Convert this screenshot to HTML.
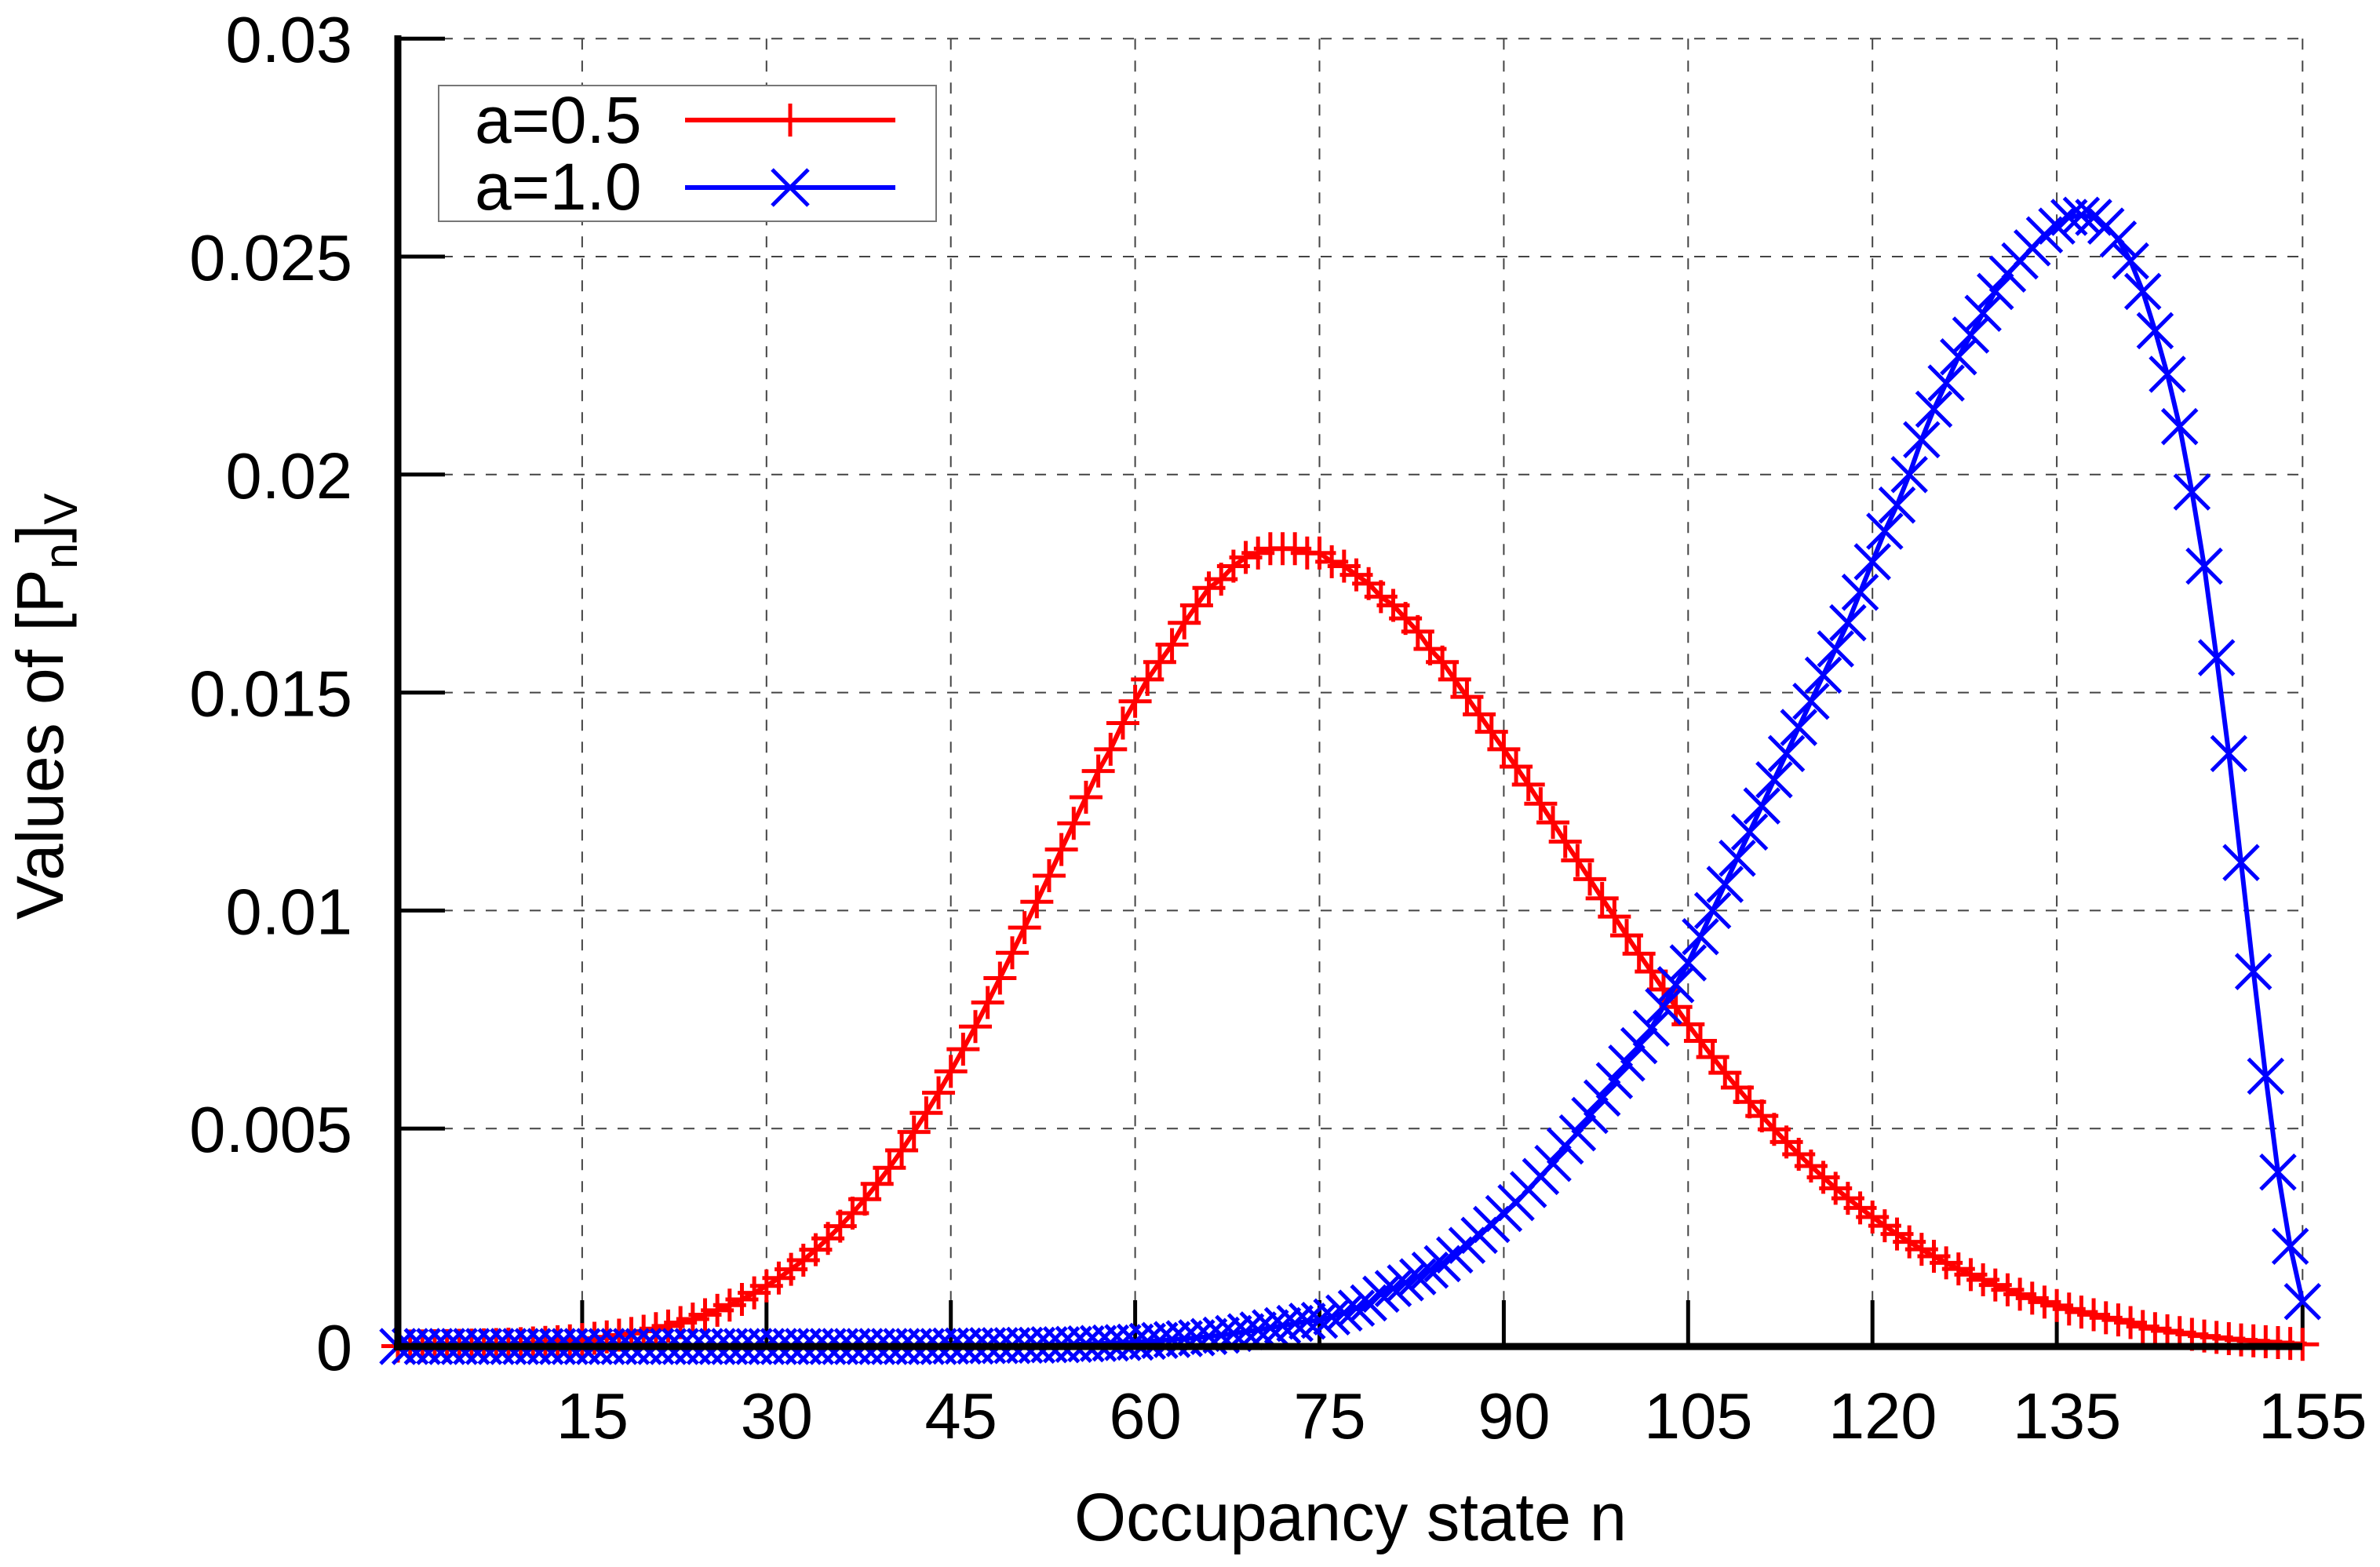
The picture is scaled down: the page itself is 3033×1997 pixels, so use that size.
<!DOCTYPE html>
<html><head><meta charset="utf-8"><style>html,body{margin:0;padding:0;background:#fff}svg{display:block}</style></head>
<body>
<svg id="chart" xmlns="http://www.w3.org/2000/svg" width="3033" height="1997" viewBox="0 0 3033 1997" font-family="'Liberation Sans', sans-serif">
<rect width="3033" height="1997" fill="#fff"/>
<g id="grid"></g>
<g id="ticks"></g>
<g id="series"></g>
<g id="axes">
<line x1="507" y1="45" x2="507" y2="1721" stroke="#000" stroke-width="9"/>
<line x1="502" y1="1716" x2="2934" y2="1716" stroke="#000" stroke-width="9"/>
</g>
<g id="labels" font-size="83" fill="#000"></g>
<text x="1721" y="1963" font-size="86" text-anchor="middle" textLength="704" lengthAdjust="spacingAndGlyphs">Occupancy state n</text>
<text transform="translate(80,1172) rotate(-90)" font-size="84">Values of [P<tspan font-size="60" dy="18">n</tspan><tspan dy="-18">]</tspan><tspan font-size="60" dy="18">V</tspan></text>
<g>
<rect x="559" y="109" width="634" height="173" fill="#fff" stroke="#777" stroke-width="2"/>
<text x="605" y="182" font-size="84">a=0.5</text>
<line x1="873" y1="153" x2="1141" y2="153" stroke="#f00" stroke-width="6"/>
<path d="M986 153H1028M1007 132V174" stroke="#f00" stroke-width="5"/>
<text x="605" y="267" font-size="84">a=1.0</text>
<line x1="873" y1="239" x2="1141" y2="239" stroke="#00f" stroke-width="6"/>
<path d="M984 216L1030 262M984 262L1030 216" stroke="#00f" stroke-width="5"/>
</g>
</svg>
<script>
const xTicks = [15,30,45,60,75,90,105,120,135,155];
const yTicks = [0,0.005,0.01,0.015,0.02,0.025,0.03];
const yTickLabels = ["0","0.005","0.01","0.015","0.02","0.025","0.03"];
const redValues = [
0.000009,0.000012,0.000014,0.000017,0.000021,0.000026,0.000031,0.000038,0.000046,0.000055,
0.000066,0.00008,0.000095,0.00011,0.00013,0.00016,0.00019,0.00022,0.00026,0.0003,
0.00035,0.00041,0.00047,0.00055,0.00063,0.00073,0.00083,0.00095,0.00108,0.00123,
0.00139,0.00157,0.00177,0.00198,0.00222,0.00248,0.00276,0.00306,0.00338,0.00373,
0.0041,0.0045,0.00492,0.00536,0.00582,0.00631,0.00682,0.00734,0.00789,0.00845,
0.00903,0.00961,0.0102,0.0108,0.0114,0.012,0.0126,0.0132,0.0137,0.0143,
0.0148,0.0153,0.0157,0.0161,0.0166,0.017,0.0174,0.0176,0.0179,0.0181,
0.0182,0.0183,0.0183,0.0183,0.0182,0.0182,0.018,0.0179,0.0177,0.0175,
0.0172,0.017,0.0167,0.0164,0.016,0.0157,0.0153,0.0149,0.0145,0.0141,
0.0137,0.0133,0.01289,0.01245,0.01202,0.01158,0.01115,0.01072,0.01028,0.00986,
0.00943,0.00901,0.0086,0.00819,0.00779,0.00739,0.00701,0.00664,0.00628,0.00594,
0.00561,0.00529,0.00498,0.00469,0.00441,0.00414,0.00388,0.00363,0.0034,0.00318,
0.00297,0.00277,0.00258,0.0024,0.00223,0.00207,0.00192,0.00178,0.00165,0.00153,
0.00141,0.0013,0.0012,0.00111,0.00102,0.00094,0.00086,0.00079,0.00073,0.00066,
0.00061,0.00055,0.00046,0.00041,0.00036,0.00032,0.00028,0.00024,0.00021,0.00018,
0.00015,0.00013,0.00011,0.00009,0.00007,0.00005];
const blueValues = [
0,0,0,0,0,0,0,0,0,0,
0,0,0,0,0,0,0,0,0,0,
0,0,0,0,0,0,0,0,0,0,
0,0,0,0,0,0,0,0,0,0,
0,0,0,0,0,0.00001,0.00001,0.00001,0.00002,0.00002,
0.00002,0.00003,0.00003,0.00004,0.00004,0.00005,0.00006,0.00007,0.00008,0.00009,
0.0001,0.00012,0.00014,0.00016,0.00018,0.0002,0.00023,0.00026,0.0003,0.00034,
0.00038,0.00043,0.00048,0.00053,0.00058,0.0006,0.00068,0.00077,0.00088,0.001,
0.0012,0.00133,0.00146,0.0016,0.00175,0.0019,0.0021,0.00232,0.00255,0.0028,
0.00305,0.0033,0.0036,0.0039,0.0042,0.0046,0.0049,0.0053,0.0057,0.0061,
0.0065,0.0069,0.0073,0.0078,0.0083,0.0088,0.0094,0.01,0.0106,0.0112,
0.0118,0.0124,0.013,0.0136,0.0142,0.0148,0.0154,0.016,0.0166,0.0173,
0.018,0.0187,0.0193,0.02,0.0208,0.0215,0.0221,0.0227,0.0232,0.0237,
0.0242,0.0246,0.0249,0.0252,0.0255,0.0257,0.0259,0.02595,0.0259,0.0257,
0.0254,0.0249,0.0242,0.0233,0.0223,0.0211,0.0196,0.0179,0.0158,0.0136,
0.0111,0.0086,0.0062,0.004,0.0023,0.00103];

const NS = "http://www.w3.org/2000/svg";
const X0 = 507, XU = 15.66, Y0 = 1716, YU = 55560;
function xs(n){ return X0 + n * XU; }
function ys(v){ return Y0 - v * YU; }
function mk(tag, attrs, parent){
  const e = document.createElementNS(NS, tag);
  for (const k in attrs) e.setAttribute(k, attrs[k]);
  parent.appendChild(e);
  return e;
}
const grid = document.getElementById('grid');
const ticks = document.getElementById('ticks');
const labels = document.getElementById('labels');
const series = document.getElementById('series');

xTicks.forEach(function(t){
  const g = mk('line', {x1: xs(t), x2: xs(t), y1: ys(0.03), y2: Y0, stroke: '#444', 'stroke-width': 2, 'stroke-dasharray': '14 14'}, grid);
  
  
  const tk = mk('line', {x1: xs(t), x2: xs(t), y1: Y0 - 59, y2: Y0, stroke: '#000', 'stroke-width': 5}, ticks);
  
  
  const lb = mk('text', {x: xs(t) + 13, y: 1833, 'text-anchor': 'middle'}, labels);
  lb.textContent = String(t);
  
  
});
yTicks.forEach(function(t, i){
  if (t > 0) {
    const g = mk('line', {x1: X0, x2: xs(155), y1: ys(t), y2: ys(t), stroke: '#444', 'stroke-width': 2, 'stroke-dasharray': '14 14'}, grid);
    
    
    const tk = mk('line', {x1: X0, x2: X0 + 60, y1: ys(t), y2: ys(t), stroke: '#000', 'stroke-width': 5}, ticks);
    
    
  }
  const lb = mk('text', {x: 449, y: ys(t) + 30, 'text-anchor': 'end'}, labels);
  lb.textContent = yTickLabels[i];
  
  
});

function drawSeries(vals, color, kind, name){
  const pts = vals.map(function(v, n){ return xs(n).toFixed(1) + ',' + ys(v).toFixed(1); }).join(' ');
  const pl = mk('polyline', {points: pts, fill: 'none', stroke: color, 'stroke-width': 6, 'stroke-linejoin': 'round'}, series);
  
  
  let d = '';
  vals.forEach(function(v, n){
    const x = xs(n), y = ys(v);
    if (kind === 'plus') {
      d += 'M' + (x - 21) + ' ' + y + 'H' + (x + 21) + 'M' + x + ' ' + (y - 21) + 'V' + (y + 21);
    } else {
      d += 'M' + (x - 22) + ' ' + (y - 22) + 'L' + (x + 22) + ' ' + (y + 22) + 'M' + (x - 22) + ' ' + (y + 22) + 'L' + (x + 22) + ' ' + (y - 22);
    }
  });
  const mp = mk('path', {d: d, fill: 'none', stroke: color, 'stroke-width': 5}, series);
  
  
}
drawSeries(redValues, '#ff0000', 'plus', 'series-a05');
drawSeries(blueValues, '#0000ff', 'cross', 'series-a10');
</script>
</body></html>
